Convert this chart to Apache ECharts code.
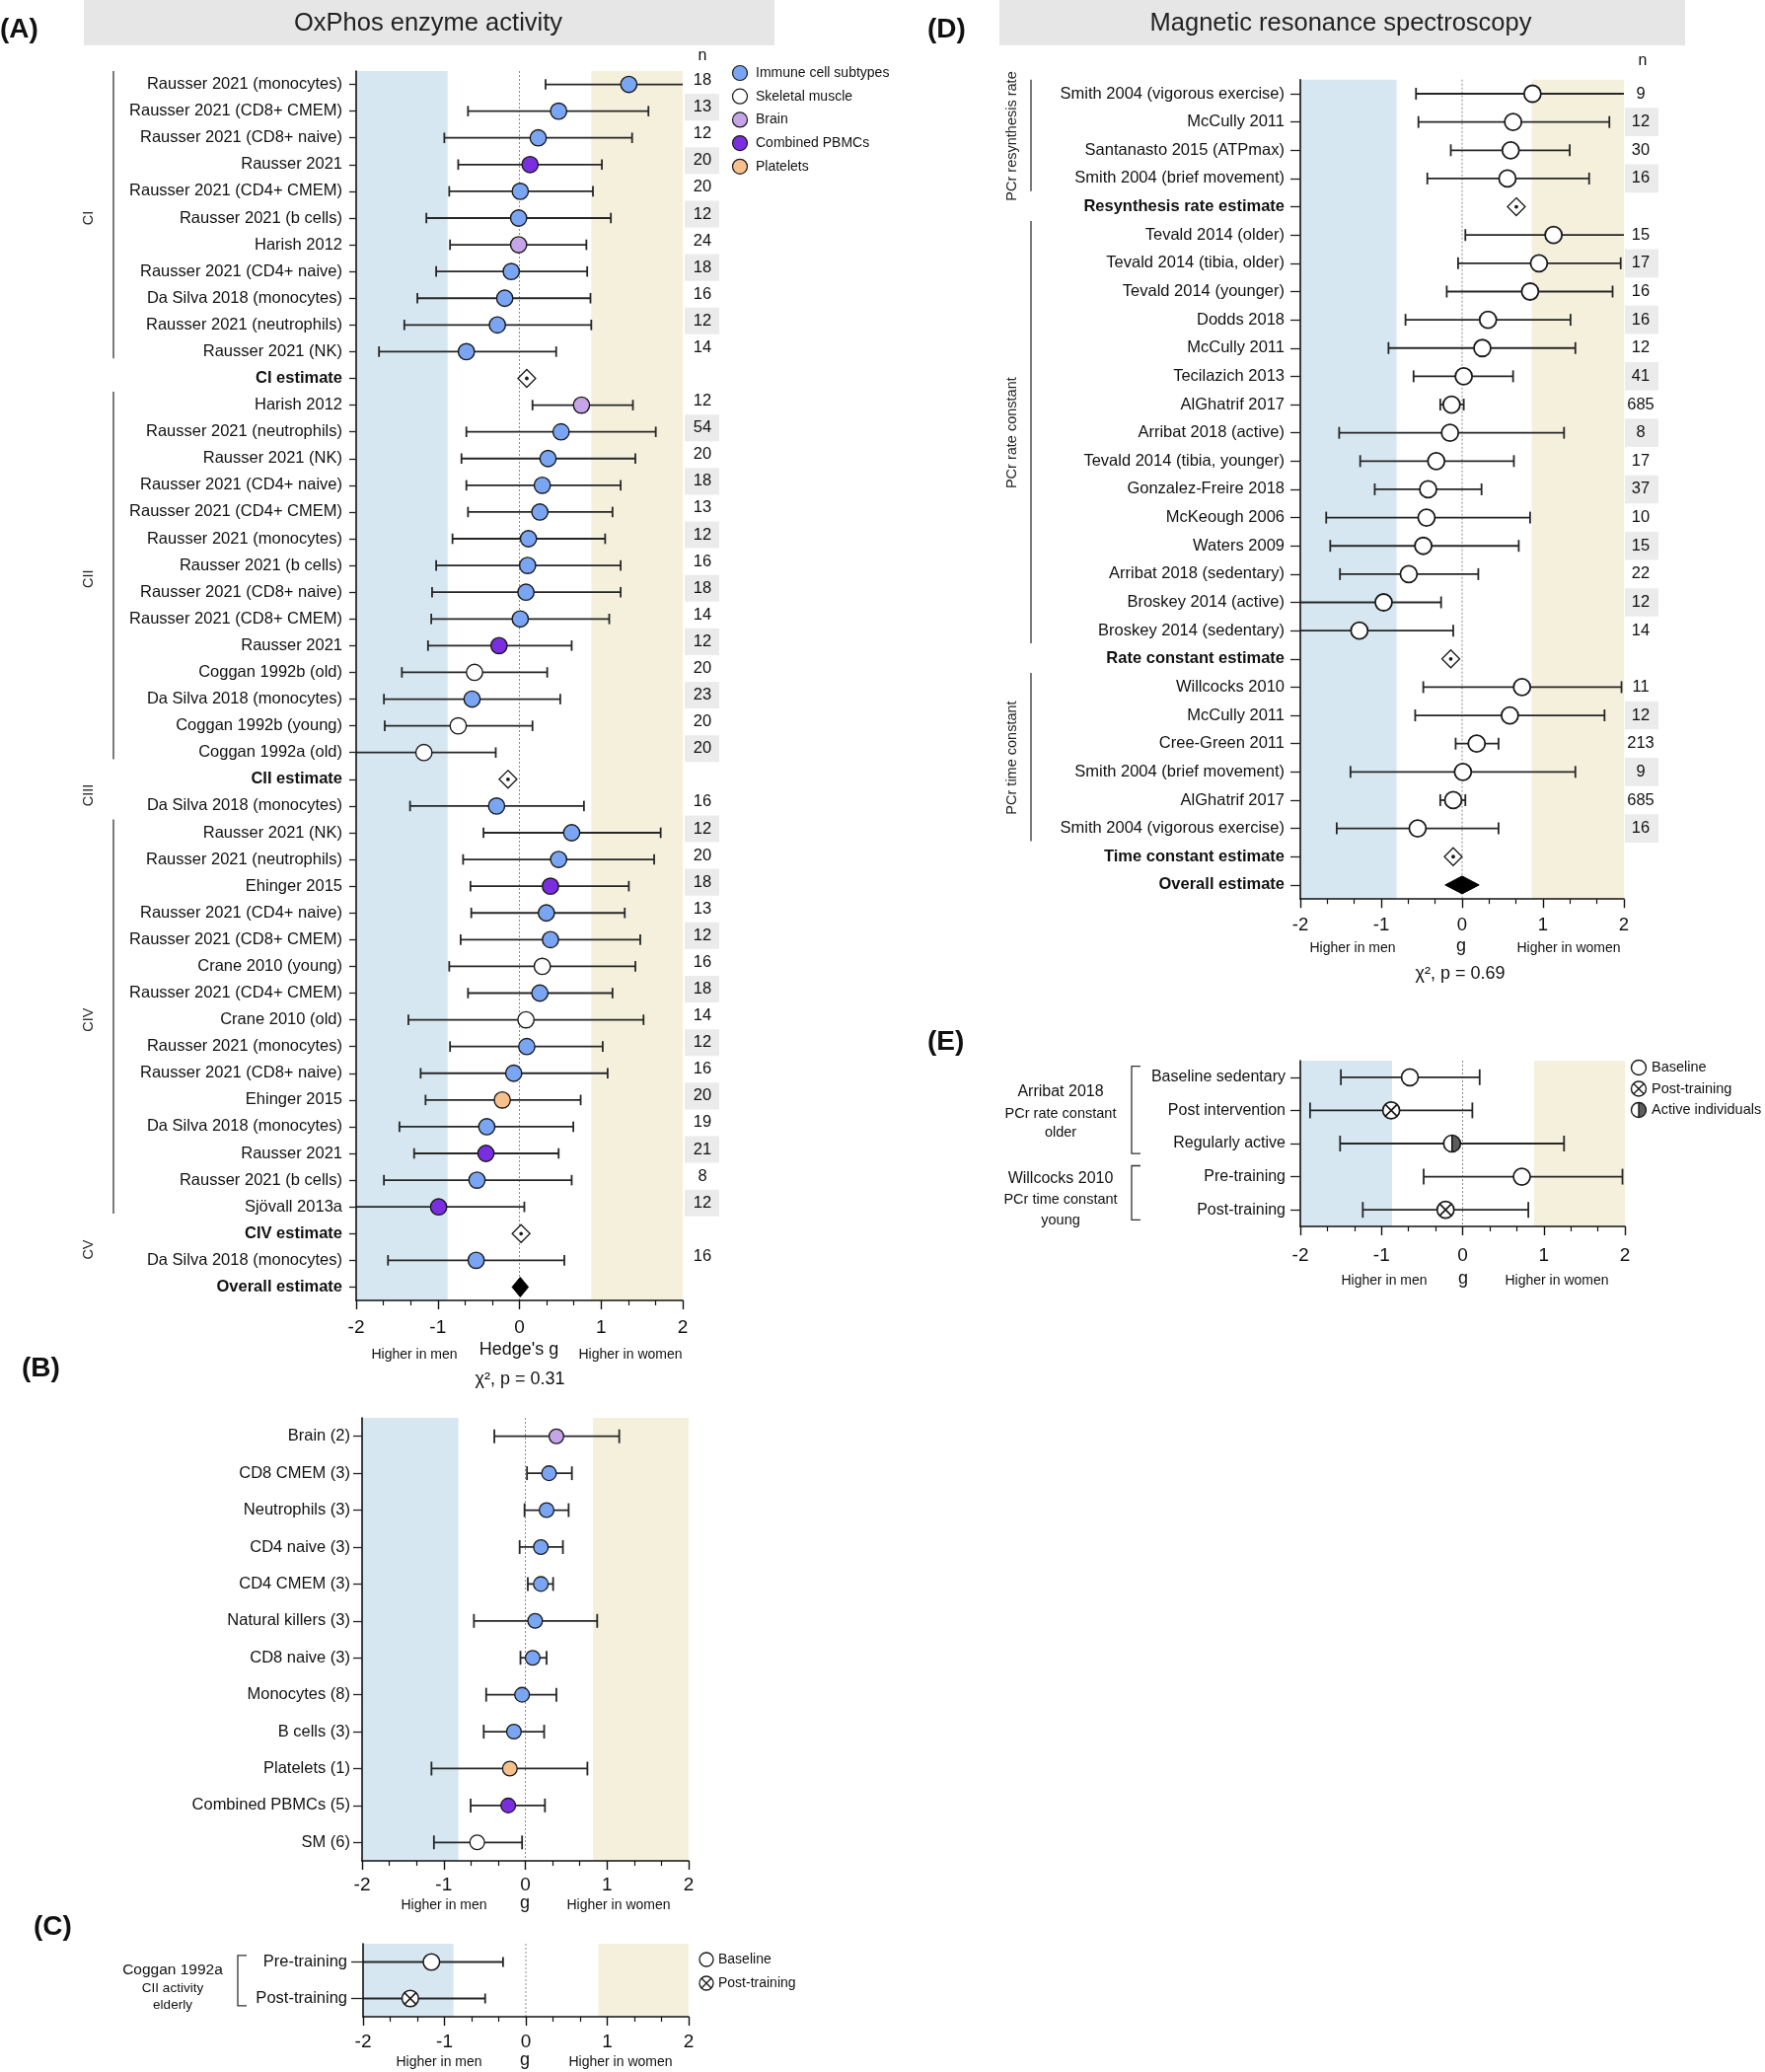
<!DOCTYPE html>
<html><head><meta charset="utf-8">
<script src="https://cdn.jsdelivr.net/npm/echarts@6/dist/echarts.min.js"></script>
<style>html,body{margin:0;padding:0;background:#fff}#c{width:1789px;height:2100px}</style>
</head><body><div id="c"></div>
<script>
// ---------------- DATA ----------------
const X_TICKS = [-2, -1, 0, 1, 2];

// Panel A : OxPhos enzyme activity
const A_labels = [
'Rausser 2021 (monocytes)','Rausser 2021 (CD8+ CMEM)','Rausser 2021 (CD8+ naive)','Rausser 2021','Rausser 2021 (CD4+ CMEM)','Rausser 2021 (b cells)','Harish 2012','Rausser 2021 (CD4+ naive)','Da Silva 2018 (monocytes)','Rausser 2021 (neutrophils)','Rausser 2021 (NK)','CI estimate',
'Harish 2012','Rausser 2021 (neutrophils)','Rausser 2021 (NK)','Rausser 2021 (CD4+ naive)','Rausser 2021 (CD4+ CMEM)','Rausser 2021 (monocytes)','Rausser 2021 (b cells)','Rausser 2021 (CD8+ naive)','Rausser 2021 (CD8+ CMEM)','Rausser 2021','Coggan 1992b (old)','Da Silva 2018 (monocytes)','Coggan 1992b (young)','Coggan 1992a (old)','CII estimate',
'Da Silva 2018 (monocytes)',
'Rausser 2021 (NK)','Rausser 2021 (neutrophils)','Ehinger 2015','Rausser 2021 (CD4+ naive)','Rausser 2021 (CD8+ CMEM)','Crane 2010 (young)','Rausser 2021 (CD4+ CMEM)','Crane 2010 (old)','Rausser 2021 (monocytes)','Rausser 2021 (CD8+ naive)','Ehinger 2015','Da Silva 2018 (monocytes)','Rausser 2021','Rausser 2021 (b cells)','Sjövall 2013a','CIV estimate',
'Da Silva 2018 (monocytes)','Overall estimate'];
const A_g = [1.34,0.48,0.23,0.13,0.01,-0.01,-0.01,-0.10,-0.18,-0.27,-0.65,0.09,
 0.76,0.51,0.35,0.28,0.25,0.11,0.10,0.08,0.01,-0.25,-0.55,-0.58,-0.75,-1.17,-0.14,
 -0.28,
 0.64,0.48,0.38,0.33,0.38,0.28,0.25,0.08,0.09,-0.07,-0.21,-0.40,-0.41,-0.52,-0.99,0.02,
 -0.53,0.01];
const A_lo = [0.32,-0.63,-0.92,-0.75,-0.86,-1.14,-0.85,-1.02,-1.25,-1.41,-1.72,null,
 0.16,-0.65,-0.71,-0.65,-0.63,-0.82,-1.02,-1.07,-1.08,-1.12,-1.44,-1.66,-1.65,-2.1,null,
 -1.34,
 -0.44,-0.69,-0.60,-0.59,-0.72,-0.86,-0.63,-1.36,-0.85,-1.21,-1.15,-1.47,-1.29,-1.66,-2.1,null,
 -1.61,-0.09];
const A_hi = [2.1,1.58,1.38,1.01,0.90,1.12,0.82,0.83,0.87,0.88,0.45,null,
 1.39,1.67,1.42,1.24,1.14,1.05,1.24,1.24,1.10,0.64,0.34,0.50,0.16,-0.29,null,
 0.79,
 1.73,1.65,1.34,1.29,1.48,1.42,1.14,1.52,1.02,1.08,0.75,0.66,0.48,0.64,0.06,null,
 0.55,0.11];
const A_kind = ['imm','imm','imm','pbmc','imm','imm','brain','imm','imm','imm','imm','est',
 'brain','imm','imm','imm','imm','imm','imm','imm','imm','pbmc','sm','imm','sm','sm','est',
 'imm',
 'imm','imm','pbmc','imm','imm','sm','imm','sm','imm','imm','plt','imm','pbmc','imm','pbmc','est',
 'imm','overall'];
const A_n = [18,13,12,20,20,12,24,18,16,12,14,null,
 12,54,20,18,13,12,16,18,14,12,20,23,20,20,null,
 16,
 12,20,18,13,12,16,18,14,12,16,20,19,21,8,12,null,
 16,null];
const A_nShade = [1,3,5,7,9,13,15,17,19,21,23,25,28,30,32,34,36,38,40,42];
const A_groups = [['CI',0,10,1],['CII',12,25,1],['CIII',27,27,0],['CIV',28,42,1],['CV',44,44,0]];
const A_bands = [[-2,-0.88],[0.88,2]];
const A_legend = [['imm','Immune cell subtypes'],['sm','Skeletal muscle'],['brain','Brain'],['pbmc','Combined PBMCs'],['plt','Platelets']];

// Panel B
const B_labels = ['Brain (2)','CD8 CMEM (3)','Neutrophils (3)','CD4 naive (3)','CD4 CMEM (3)','Natural killers (3)','CD8 naive (3)','Monocytes (8)','B cells (3)','Platelets (1)','Combined PBMCs (5)','SM (6)'];
const B_g  = [0.38,0.29,0.26,0.19,0.19,0.12,0.09,-0.04,-0.14,-0.19,-0.21,-0.59];
const B_lo = [-0.38,0.02,-0.01,-0.07,0.03,-0.63,-0.06,-0.48,-0.51,-1.15,-0.67,-1.12];
const B_hi = [1.15,0.57,0.53,0.46,0.34,0.88,0.26,0.38,0.23,0.76,0.24,-0.04];
const B_kind = ['brain','imm','imm','imm','imm','imm','imm','imm','imm','plt','pbmc','sm'];
const B_bands = [[-2,-0.82],[0.83,2]];

// Panel C
const C_labels = ['Pre-training','Post-training'];
const C_g  = [-1.16,-1.42];
const C_lo = [-2.1,-2.1];
const C_hi = [-0.28,-0.50];
const C_kind = ['base','post'];
const C_bands = [[-2,-0.89],[0.89,2]];
const C_brackets = [[0,1]];
const C_legend = [['base','Baseline'],['post','Post-training']];

// Panel D : Magnetic resonance spectroscopy
const D_labels = ['Smith 2004 (vigorous exercise)','McCully 2011','Santanasto 2015 (ATPmax)','Smith 2004 (brief movement)','Resynthesis rate estimate',
 'Tevald 2014 (older)','Tevald 2014 (tibia, older)','Tevald 2014 (younger)','Dodds 2018','McCully 2011','Tecilazich 2013','AlGhatrif 2017','Arribat 2018 (active)','Tevald 2014 (tibia, younger)','Gonzalez-Freire 2018','McKeough 2006','Waters 2009','Arribat 2018 (sedentary)','Broskey 2014 (active)','Broskey 2014 (sedentary)','Rate constant estimate',
 'Willcocks 2010','McCully 2011','Cree-Green 2011','Smith 2004 (brief movement)','AlGhatrif 2017','Smith 2004 (vigorous exercise)','Time constant estimate','Overall estimate'];
const D_g  = [0.87,0.63,0.60,0.56,0.67, 1.13,0.95,0.84,0.32,0.25,0.02,-0.13,-0.15,-0.32,-0.42,-0.44,-0.48,-0.66,-0.97,-1.27,-0.14, 0.74,0.59,0.18,0.01,-0.11,-0.55,-0.11, 0.0];
const D_lo = [-0.57,-0.54,-0.14,-0.43,null, 0.04,-0.05,-0.19,-0.70,-0.91,-0.60,-0.27,-1.52,-1.26,-1.08,-1.68,-1.63,-1.51,-2.05,-2.1,null, -0.48,-0.58,-0.08,-1.38,-0.27,-1.55,null, -0.21];
const D_hi = [2.1,1.82,1.33,1.57,null, 2.1,1.96,1.86,1.34,1.40,0.63,0.02,1.26,0.64,0.24,0.84,0.70,0.20,-0.26,-0.11,null, 1.97,1.76,0.45,1.40,0.04,0.45,null, 0.21];
const D_kind = ['sm','sm','sm','sm','est', 'sm','sm','sm','sm','sm','sm','sm','sm','sm','sm','sm','sm','sm','sm','sm','est', 'sm','sm','sm','sm','sm','sm','est','overall'];
const D_n = [9,12,30,16,null, 15,17,16,16,12,41,685,8,17,37,10,15,22,12,14,null, 11,12,213,9,685,16,null,null];
const D_nShade = [1,3,6,8,10,12,14,16,18,22,24,26];
const D_groups = [['PCr resynthesis rate',0,3,1],['PCr rate constant',5,19,1],['PCr time constant',21,26,1]];
const D_bands = [[-2,-0.81],[0.86,2]];

// Panel E
const E_labels = ['Baseline sedentary','Post intervention','Regularly active','Pre-training','Post-training'];
const E_g  = [-0.65,-0.88,-0.13,0.73,-0.21];
const E_lo = [-1.50,-1.88,-1.51,-0.48,-1.23];
const E_hi = [0.21,0.12,1.25,1.97,0.81];
const E_kind = ['base','post','active','base','post'];
const E_bands = [[-2,-0.87],[0.88,2]];
const E_brackets = [[0,2],[3,4]];
const E_legend = [['base','Baseline'],['post','Post-training'],['active','Active individuals']];

// ---------------- STYLE ----------------
const FONT = '"Liberation Sans", Arial, Helvetica, sans-serif';
const FILL = {imm:'#7aa5f3', sm:'#ffffff', brain:'#c5a4e8', pbmc:'#7b2ee0', plt:'#f8c08d', base:'#ffffff', post:'#ffffff', active:'#ffffff'};
const BAND_COL = ['#d6e7f1', '#f5f0dc'];
const INK = '#1a1a1a';

const option = {animation:false, backgroundColor:'#ffffff', textStyle:{fontFamily:FONT},
  grid:[], xAxis:[], yAxis:[], series:[], graphic:[]};

function markerEls(kind, x, y, r, mw) {
  if (kind === 'post') {
    const d = r * 0.7071;
    return [
      {type:'circle', shape:{cx:x, cy:y, r:r}, style:{fill:'#fff', stroke:INK, lineWidth:mw}},
      {type:'line', shape:{x1:x-d, y1:y-d, x2:x+d, y2:y+d}, style:{stroke:INK, lineWidth:mw}},
      {type:'line', shape:{x1:x-d, y1:y+d, x2:x+d, y2:y-d}, style:{stroke:INK, lineWidth:mw}}
    ];
  }
  if (kind === 'active') {
    return [
      {type:'circle', shape:{cx:x, cy:y, r:r}, style:{fill:'#fff'}},
      {type:'sector', shape:{cx:x, cy:y, r0:0, r:r, startAngle:-Math.PI/2, endAngle:Math.PI/2, clockwise:true}, style:{fill:'#5c5c5c'}},
      {type:'line', shape:{x1:x, y1:y-r, x2:x, y2:y+r}, style:{stroke:INK, lineWidth:mw}},
      {type:'circle', shape:{cx:x, cy:y, r:r}, style:{fill:'none', stroke:INK, lineWidth:mw}}
    ];
  }
  return [{type:'circle', shape:{cx:x, cy:y, r:r}, style:{fill:FILL[kind], stroke:INK, lineWidth:mw}}];
}

function txt(text, x, y, size, opt) {
  opt = opt || {};
  const al = opt.align || 'center';
  return {type:'text', x:x, y:y, rotation:opt.rot || 0, z:50, silent:true,
    style:{text:text, fontSize:size, fontFamily:FONT, fontWeight:opt.bold ? 'bold' : 'normal', fill:opt.color || '#111',
      align:al, verticalAlign:'middle', textAlign:al, textVerticalAlign:'middle'}};
}

function yAt(api, v) {
  const y0 = api.coord([0, 0])[1];
  const y1 = api.coord([0, 1])[1];
  return y0 + v * (y1 - y0);
}

function addPanel(D, P) {
  const k = option.grid.length;
  option.grid.push({left:P.left, top:P.top, width:P.width, height:P.height, show:false});
  option.xAxis.push({gridIndex:k, type:'value', min:X_TICKS[0], max:X_TICKS[X_TICKS.length-1], interval:1, z:10,
    axisLine:{show:true, onZero:false, lineStyle:{color:'#111', width:1.6}},
    axisTick:{show:true, length:9, lineStyle:{color:'#111', width:1.4}},
    minorTick:{show:true, splitNumber:3, length:5, lineStyle:{color:'#111', width:1.2}},
    splitLine:{show:false}, minorSplitLine:{show:false},
    axisLabel:{show:true, margin:P.xMargin, fontSize:P.xFont, color:'#111', fontFamily:FONT,
      formatter:function(v){ const t = X_TICKS.indexOf(v); return t >= 0 ? String(X_TICKS[t]) : ''; }}});
  option.yAxis.push({gridIndex:k, type:'category', inverse:true, z:10, boundaryGap:true,
    data:D.labels.map(function(_, i){ return String(i); }),
    axisLine:{show:true, onZero:false, lineStyle:{color:'#111', width:1.6}},
    axisTick:{show:true, alignWithLabel:true, interval:0, length:P.yTick, lineStyle:{color:'#222', width:1.3}},
    splitLine:{show:false},
    axisLabel:{show:true, interval:0, margin:P.yMargin, fontSize:P.yFont, fontFamily:FONT, color:'#111',
      formatter:function(v){ const i = +v; const t = D.labels[i]; const kd = D.kind[i];
        return (kd === 'est' || kd === 'overall') ? '{b|' + t + '}' : t; },
      rich:{b:{fontWeight:'bold', fontSize:P.yFont, fontFamily:FONT, color:'#111'}}}});
  const ax = {xAxisIndex:k, yAxisIndex:k, coordinateSystem:'cartesian2d', clip:false, silent:true};

  // background bands
  option.series.push(Object.assign({type:'custom', z:1, data:D.bands.map(function(b){ return [b[0], 0]; }),
    renderItem:function(params, api){
      const cs = params.coordSys; const b = D.bands[params.dataIndex];
      const x0 = api.coord([b[0], 0])[0], x1 = api.coord([b[1], 0])[0];
      return {type:'rect', shape:{x:x0, y:cs.y, width:x1 - x0, height:cs.height}, style:{fill:BAND_COL[params.dataIndex]}};
    }}, ax));
  // zero reference line
  option.series.push(Object.assign({type:'custom', z:2, data:[[0, 0]],
    renderItem:function(params, api){
      const cs = params.coordSys; const x = api.coord([0, 0])[0];
      return {type:'line', shape:{x1:x, y1:cs.y, x2:x, y2:cs.y + cs.height}, style:{stroke:'#8a8a8a', lineWidth:1, lineDash:[2, 2]}};
    }}, ax));
  // forest marks
  option.series.push(Object.assign({type:'custom', z:5,
    data:D.labels.map(function(_, i){ return [D.g[i], i]; }),
    renderItem:function(params, api){
      const i = params.dataIndex; const cs = params.coordSys;
      const y = api.coord([0, i])[1];
      const kind = D.kind[i], g = D.g[i], lo = D.lo[i], hi = D.hi[i];
      const ch = [];
      const x = api.coord([g, i])[0];
      if (kind === 'est') {
        ch.push({type:'polygon', shape:{points:[[x, y - P.estH], [x + P.estW, y], [x, y + P.estH], [x - P.estW, y]]}, style:{fill:'#fff', stroke:INK, lineWidth:1.3}});
        ch.push({type:'circle', shape:{cx:x, cy:y, r:1.9}, style:{fill:INK}});
        return {type:'group', children:ch};
      }
      if (kind === 'overall') {
        const xl = api.coord([lo, i])[0], xh = api.coord([hi, i])[0];
        ch.push({type:'polygon', shape:{points:[[x, y - P.ovH], [xh, y], [x, y + P.ovH], [xl, y]]}, style:{fill:'#000', stroke:'#000', lineWidth:1}});
        return {type:'group', children:ch};
      }
      const xl = api.coord([lo, i])[0], xh = api.coord([hi, i])[0];
      const cl = Math.max(xl, cs.x), chx = Math.min(xh, cs.x + cs.width);
      ch.push({type:'line', shape:{x1:cl, y1:y, x2:chx, y2:y}, style:{stroke:'#262626', lineWidth:P.barW}});
      if (lo >= X_TICKS[0]) ch.push({type:'line', shape:{x1:xl, y1:y - P.cap, x2:xl, y2:y + P.cap}, style:{stroke:'#262626', lineWidth:P.barW}});
      if (hi <= X_TICKS[X_TICKS.length-1]) ch.push({type:'line', shape:{x1:xh, y1:y - P.cap, x2:xh, y2:y + P.cap}, style:{stroke:'#262626', lineWidth:P.barW}});
      markerEls(kind, x, y, P.r, P.mw).forEach(function(e){ ch.push(e); });
      return {type:'group', children:ch};
    }}, ax));
  // n column
  if (D.n) {
    option.series.push(Object.assign({type:'custom', z:4,
      data:D.labels.map(function(_, i){ return [X_TICKS[X_TICKS.length-1], i]; }),
      renderItem:function(params, api){
        const i = params.dataIndex; const cs = params.coordSys;
        const y = api.coord([0, i])[1] + P.nShift;
        const step = api.coord([0, 1])[1] - api.coord([0, 0])[1];
        const xr = cs.x + cs.width; const ch = [];
        if (D.nShade.indexOf(i) >= 0) ch.push({type:'rect', shape:{x:xr + P.nBox[0], y:y - step/2, width:P.nBox[1], height:step}, style:{fill:'#ebebeb'}});
        if (D.n[i] != null) ch.push({type:'text', x:xr + P.nText, y:y, style:{text:String(D.n[i]), fontSize:16.5, fontFamily:FONT, fill:'#111', align:'center', verticalAlign:'middle', textAlign:'center', textVerticalAlign:'middle'}});
        return {type:'group', children:ch};
      }}, ax));
  }
  // group labels with vertical lines
  if (D.groups) {
    option.series.push(Object.assign({type:'custom', z:4,
      data:D.groups.map(function(gp){ return [X_TICKS[0], gp[1]]; }),
      renderItem:function(params, api){
        const gp = D.groups[params.dataIndex]; const cs = params.coordSys; const ch = [];
        const ya = yAt(api, gp[1] + P.grpPad[0]), yb = yAt(api, gp[2] + P.grpPad[1]);
        const lx = cs.x - P.grpLine;
        if (gp[3]) ch.push({type:'line', shape:{x1:lx, y1:ya, x2:lx, y2:yb}, style:{stroke:'#333', lineWidth:1.3}});
        const yc = gp[3] ? (yAt(api, gp[1]) + yAt(api, gp[2])) / 2 : yAt(api, gp[1] - 0.4);
        ch.push({type:'text', x:cs.x - P.grpText, y:yc, rotation:Math.PI/2,
          style:{text:gp[0], fontSize:P.grpFont, fontFamily:FONT, fill:'#222', align:'center', verticalAlign:'middle', textAlign:'center', textVerticalAlign:'middle'}});
        return {type:'group', children:ch};
      }}, ax));
  }
  // brackets
  if (D.brackets) {
    option.series.push(Object.assign({type:'custom', z:4,
      data:D.brackets.map(function(b){ return [X_TICKS[0], b[0]]; }),
      renderItem:function(params, api){
        const b = D.brackets[params.dataIndex]; const cs = params.coordSys;
        const ya = yAt(api, b[0] + P.brPad[0]), yb = yAt(api, b[1] + P.brPad[1]);
        const lx = cs.x - P.brX, tx = lx + P.brTick;
        return {type:'polyline', shape:{points:[[tx, ya], [lx, ya], [lx, yb], [tx, yb]]}, style:{stroke:'#333', lineWidth:1.3, fill:'none'}};
      }}, ax));
  }
}

addPanel({labels:A_labels, g:A_g, lo:A_lo, hi:A_hi, kind:A_kind, n:A_n, nShade:A_nShade, groups:A_groups, bands:A_bands},
  {left:361, top:72, width:331, height:1246, yFont:16.5, yTick:7, yMargin:14, xFont:19, xMargin:18,
   r:8.2, mw:1.4, cap:5.3, barW:1.8, estW:9, estH:9, ovH:10, nBox:[2, 35], nText:20, nShift:-4,
   grpLine:246, grpText:271, grpPad:[-0.5, 0.25], grpFont:14.5});
addPanel({labels:B_labels, g:B_g, lo:B_lo, hi:B_hi, kind:B_kind, bands:B_bands},
  {left:367, top:1437, width:331, height:449, yFont:16.5, yTick:9, yMargin:12, xFont:19, xMargin:15,
   r:7.4, mw:1.3, cap:7, barW:1.8, estW:9, estH:9, ovH:10});
addPanel({labels:C_labels, g:C_g, lo:C_lo, hi:C_hi, kind:C_kind, bands:C_bands, brackets:C_brackets},
  {left:368, top:1970, width:330, height:74, yFont:16.5, yTick:12, yMargin:16, xFont:19, xMargin:16,
   r:8.3, mw:1.5, cap:5, barW:1.8, estW:9, estH:9, ovH:10, brX:127, brTick:9, brPad:[-0.18, 0.2]});
addPanel({labels:D_labels, g:D_g, lo:D_lo, hi:D_hi, kind:D_kind, n:D_n, nShade:D_nShade, groups:D_groups, bands:D_bands},
  {left:1318, top:80.7, width:328, height:830.5, yFont:16.5, yTick:10, yMargin:16, xFont:18.5, xMargin:17,
   r:8.5, mw:1.8, cap:6, barW:1.8, estW:9, estH:9, ovH:9, nBox:[1, 34], nText:17, nShift:0,
   grpLine:273, grpText:292, grpPad:[-0.5, 0.45], grpFont:14.5});
addPanel({labels:E_labels, g:E_g, lo:E_lo, hi:E_hi, kind:E_kind, bands:E_bands, brackets:E_brackets},
  {left:1318, top:1075, width:329, height:168, yFont:16, yTick:10, yMargin:15, xFont:19, xMargin:20,
   r:8.5, mw:1.7, cap:8, barW:1.8, estW:9, estH:9, ovH:9, brX:171, brTick:9, brPad:[-0.33, 0.3]});

// ---------------- TEXT & LEGENDS ----------------
const G = option.graphic;
G.push({type:'rect', shape:{x:85, y:0, width:700, height:46}, style:{fill:'#e6e6e6'}, z:0, silent:true});
G.push(txt('OxPhos enzyme activity', 434, 24, 25.5, {color:'#222'}));
G.push({type:'rect', shape:{x:1013, y:0, width:695, height:46}, style:{fill:'#e6e6e6'}, z:0, silent:true});
G.push(txt('Magnetic resonance spectroscopy', 1359, 24, 25.5, {color:'#222'}));

G.push(txt('(A)', 0, 30, 28, {bold:true, align:'left'}));
G.push(txt('(D)', 940, 30, 28, {bold:true, align:'left'}));
G.push(txt('(B)', 22, 1387, 28, {bold:true, align:'left'}));
G.push(txt('(C)', 34, 1953, 28, {bold:true, align:'left'}));
G.push(txt('(E)', 940, 1056, 28, {bold:true, align:'left'}));

G.push(txt('n', 712, 57, 16));
G.push(txt('n', 1665, 62, 16));

// panel A axis text
G.push(txt('Higher in men', 420, 1373, 14));
G.push(txt("Hedge's g", 526, 1368, 18));
G.push(txt('Higher in women', 639, 1373, 14));
G.push(txt('χ², p = 0.31', 527, 1398, 18));
// panel B
G.push(txt('Higher in men', 450, 1931, 14));
G.push(txt('g', 532, 1929, 18));
G.push(txt('Higher in women', 627, 1931, 14));
// panel C
G.push(txt('Higher in men', 445, 2090, 14));
G.push(txt('g', 532, 2088, 18));
G.push(txt('Higher in women', 629, 2090, 14));
G.push(txt('Coggan 1992a', 175, 1997, 15.5));
G.push(txt('CII activity', 175, 2015, 13.5));
G.push(txt('elderly', 175, 2032, 13.5));
// panel D
G.push(txt('Higher in men', 1371, 961, 14));
G.push(txt('g', 1481, 959, 18));
G.push(txt('Higher in women', 1590, 961, 14));
G.push(txt('χ², p = 0.69', 1480, 987, 18));
// panel E
G.push(txt('Higher in men', 1403, 1298, 14));
G.push(txt('g', 1483, 1296, 18));
G.push(txt('Higher in women', 1578, 1298, 14));
G.push(txt('Arribat 2018', 1075, 1107, 16));
G.push(txt('PCr rate constant', 1075, 1129, 14.5));
G.push(txt('older', 1075, 1148, 14.5));
G.push(txt('Willcocks 2010', 1075, 1195, 16));
G.push(txt('PCr time constant', 1075, 1216, 14.5));
G.push(txt('young', 1075, 1237, 14.5));

// legends
A_legend.forEach(function(it, j){
  const y = 74 + j * 23.7;
  markerEls(it[0], 750, y, 7.5, 1.2).forEach(function(e){ e.z = 50; G.push(e); });
  G.push(txt(it[1], 766, y, 14, {align:'left'}));
});
C_legend.forEach(function(it, j){
  const y = 1986 + j * 24;
  markerEls(it[0], 716, y, 7, 1.3).forEach(function(e){ e.z = 50; G.push(e); });
  G.push(txt(it[1], 728, y, 14, {align:'left'}));
});
E_legend.forEach(function(it, j){
  const y = 1082 + j * 21.5;
  markerEls(it[0], 1661, y, 7.5, 1.4).forEach(function(e){ e.z = 50; G.push(e); });
  G.push(txt(it[1], 1674, y, 14.5, {align:'left'}));
});

const chart = echarts.init(document.getElementById('c'), null, {renderer:'canvas', width:1789, height:2100});
chart.setOption(option);
</script></body></html>
